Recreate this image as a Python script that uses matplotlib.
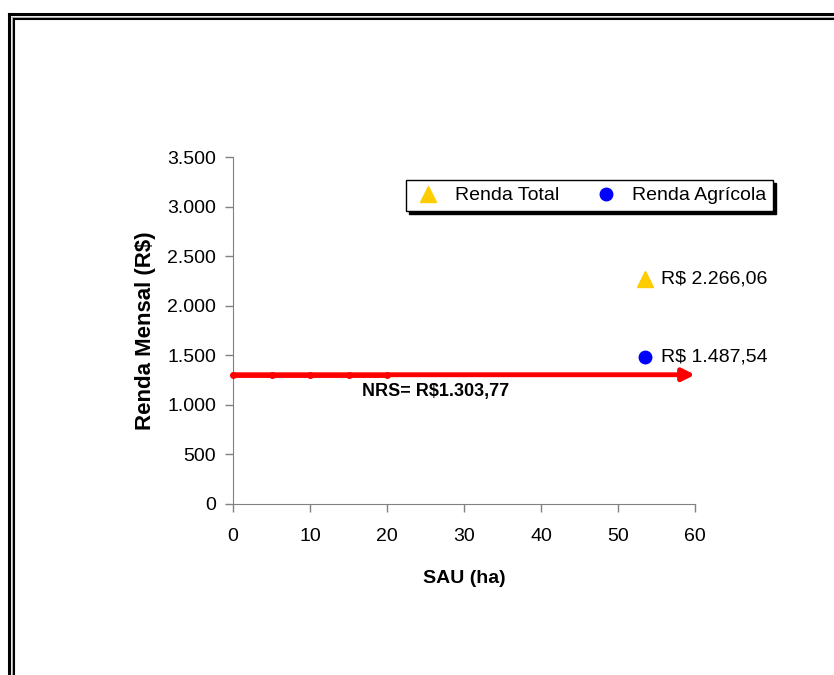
import matplotlib.pyplot as plt
from matplotlib.lines import Line2D
from matplotlib.ticker import FuncFormatter

plt.rcParams['font.family'] = ['Liberation Sans', 'DejaVu Sans']

# dados
sau = [53.5]
renda_total = [2266.06]
renda_agricola = [1487.54]
nrs = 1303.77
nrs_x = [0, 5, 10, 15, 20]
nrs_fim = 60
rotulo_total = 'R$ 2.266,06'
rotulo_agricola = 'R$ 1.487,54'
rotulo_nrs = 'NRS= R$1.303,77'

fig = plt.figure(figsize=(8.34, 6.75), dpi=100)
ax = fig.add_axes([233 / 834, 1 - 504 / 675, 462 / 834, 347 / 675])

# linha NRS com seta
ax.plot(nrs_x, [nrs] * len(nrs_x), color='red', lw=3.5, marker='o', markersize=4, clip_on=False, zorder=3)
ax.annotate('', xy=(nrs_fim, nrs), xytext=(0, nrs),
            arrowprops=dict(arrowstyle='-|>', color='red', lw=3.5, mutation_scale=18, shrinkA=0, shrinkB=0),
            annotation_clip=False, zorder=3)
ax.text(16.75, 1130, rotulo_nrs, fontsize=13, fontweight='bold', va='center', ha='left')

ax.plot(sau, renda_total, linestyle='none', marker='^', color='#FFCC00', markersize=12, label='Renda Total', zorder=4)
ax.plot(sau, renda_agricola, linestyle='none', marker='o', color='#0000FF', markersize=9, label='Renda Agrícola', zorder=4)
ax.text(sau[0] + 2.05, renda_total[0], rotulo_total, fontsize=14, va='center', ha='left')
ax.text(sau[0] + 2.05, renda_agricola[0], rotulo_agricola, fontsize=14, va='center', ha='left')

ax.set_xlim(0, 60)
ax.set_ylim(0, 3500)
ax.set_xticks(range(0, 61, 10))
ax.set_yticks(range(0, 3501, 500))
ax.yaxis.set_major_formatter(FuncFormatter(lambda v, p: '{:,.0f}'.format(v).replace(',', '.')))
ax.tick_params(direction='out', length=6, width=1, color='#808080', labelsize=14)
ax.tick_params(axis='x', pad=11)
ax.tick_params(axis='y', pad=6)
for s in ['top', 'right']:
    ax.spines[s].set_visible(False)
for s in ['left', 'bottom']:
    ax.spines[s].set_color('#808080')
ax.set_xlabel('SAU (ha)', fontsize=14, fontweight='bold', labelpad=18)
ax.set_ylabel('Renda Mensal (R$)', fontsize=16, fontweight='bold', labelpad=8)

leg = ax.legend(loc='upper left', bbox_to_anchor=(406 / 834, 1 - 180 / 675), bbox_transform=fig.transFigure,
                ncol=2, frameon=True, fancybox=False, shadow={'color': 'black', 'alpha': 1},
                fontsize=14, handlelength=1.6, handletextpad=0.55, columnspacing=1.6,
                borderpad=0.35, borderaxespad=0)
leg.get_frame().set_edgecolor('black')
leg.get_frame().set_linewidth(1)

# moldura dupla
W, H = 834, 675
for px, lw, cor in [(9, 2.2, 'black'), (11.5, 1.0, '#b0b0b0'), (14, 1.5, 'black')]:
    fig.add_artist(Line2D([px / W, px / W], [1 - (px + 5) / H, -0.1], color=cor, lw=lw, transform=fig.transFigure))
    fig.add_artist(Line2D([px / W, 1.1], [1 - (px + 5) / H, 1 - (px + 5) / H], color=cor, lw=lw, transform=fig.transFigure))

fig.savefig('out.png', dpi=100)
